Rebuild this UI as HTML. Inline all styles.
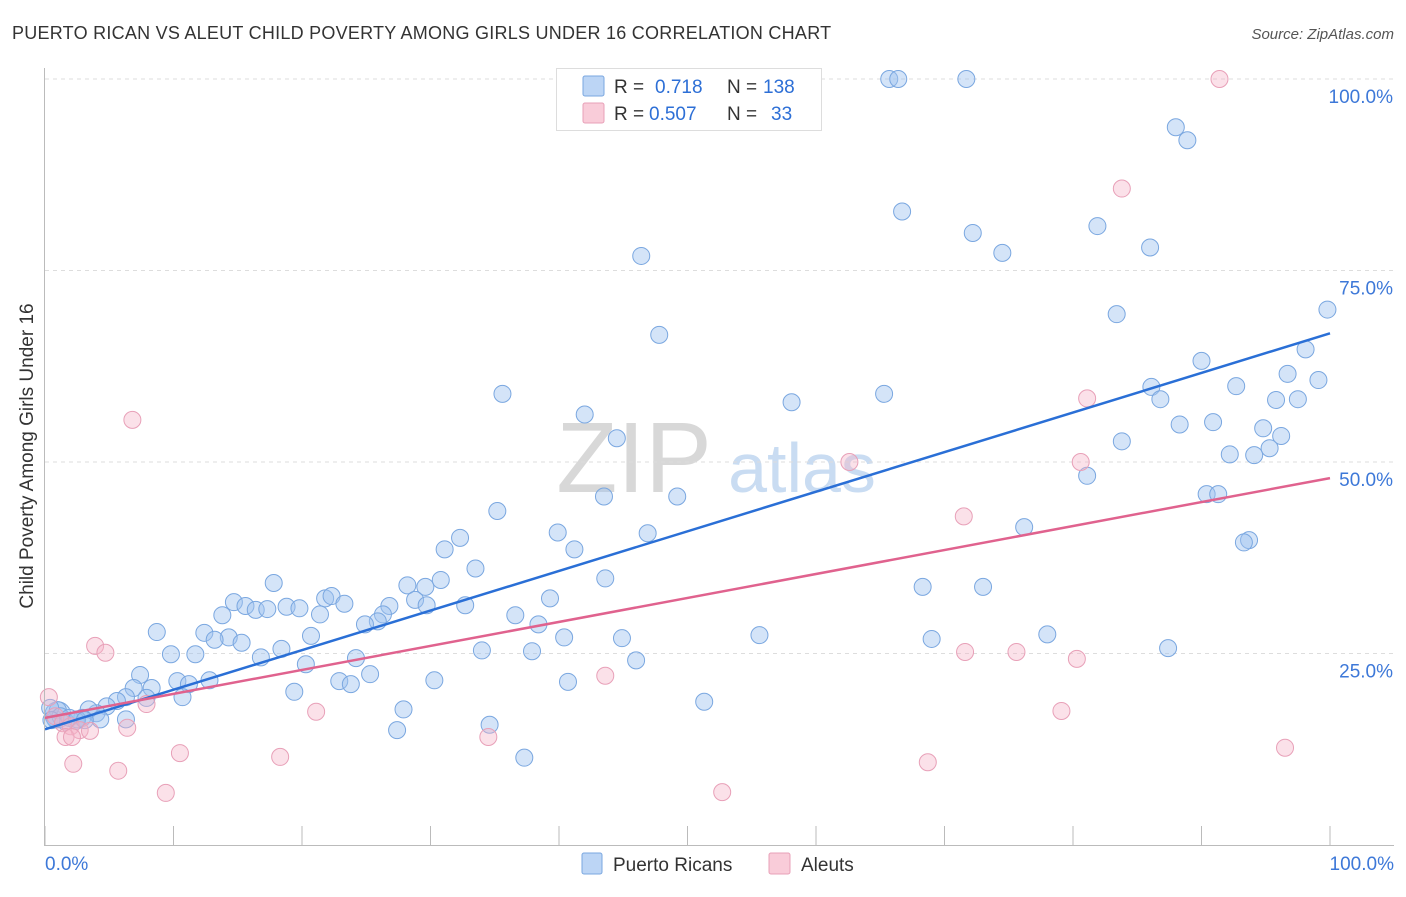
<!DOCTYPE html>
<html><head><meta charset="utf-8"><style>
body{margin:0;background:#fff;font-family:"Liberation Sans",sans-serif}
svg text{font-family:"Liberation Sans",sans-serif}
</style></head><body>
<svg id="chart" width="1406" height="892" viewBox="0 0 1406 892">
<text x="12" y="39" font-size="18" letter-spacing="0.25" fill="#333">PUERTO RICAN VS ALEUT CHILD POVERTY AMONG GIRLS UNDER 16 CORRELATION CHART</text>
<text x="1394" y="39" font-size="15" fill="#555" font-style="italic" text-anchor="end">Source: ZipAtlas.com</text>
<text x="634" y="492" font-size="100" fill="#d8d8d8" font-family="Liberation Serif,serif" text-anchor="middle">ZIP</text>
<text x="802" y="492" font-size="70" fill="#c9dcf2" text-anchor="middle">atlas</text>
<g id="grid"></g><g id="pts"></g><g id="lines"></g>
<line x1="44.5" y1="68" x2="44.5" y2="845" stroke="#bbb"/>
<line x1="44" y1="845.5" x2="1394" y2="845.5" stroke="#bbb"/>
<text transform="translate(33,456) rotate(-90)" font-size="19" fill="#333" text-anchor="middle">Child Poverty Among Girls Under 16</text>
<text x="45" y="870" font-size="19" fill="#3d78d8">0.0%</text>
<text x="1394" y="870" font-size="19" fill="#3d78d8" text-anchor="end">100.0%</text>
<g>
<rect x="556.5" y="68.5" width="265" height="62" fill="#fff" stroke="#ddd"/>
<rect x="583" y="76" width="21" height="20" fill="#bcd5f5" stroke="#7aa7e0" rx="2"/>
<rect x="583" y="103" width="21" height="20" fill="#f9ccd9" stroke="#e8a0b8" rx="2"/>
<text x="614" y="93" font-size="19" fill="#333">R = </text><text x="655" y="93" font-size="19" fill="#2d6fd6">0.718</text>
<text x="727" y="93" font-size="19" fill="#333">N = </text><text x="763" y="93" font-size="19" fill="#2d6fd6">138</text>
<text x="614" y="120" font-size="19" fill="#333">R = </text><text x="649" y="120" font-size="19" fill="#2d6fd6">0.507</text>
<text x="727" y="120" font-size="19" fill="#333">N = </text><text x="771" y="120" font-size="19" fill="#2d6fd6">33</text>
</g>
<g><rect x="582" y="853" width="20" height="21" fill="#bcd5f5" stroke="#7aa7e0" rx="2"/><text x="613" y="871" font-size="19" fill="#333">Puerto Ricans</text></g>
<g><rect x="769" y="853" width="21" height="21" fill="#f9ccd9" stroke="#e8a0b8" rx="2"/><text x="801" y="871" font-size="19" fill="#333">Aleuts</text></g>
</svg>
<script>
const yTicks=[25,50,75,100];
const yTickLabels=["25.0%","50.0%","75.0%","100.0%"];
const xTicks=[0,10,20,30,40,50,60,70,80,90,100];
const blueX=[65.7,66.4,71.7,88.0,88.9,66.7,72.2,81.9,86.0,74.5,46.4,47.8,83.4,99.8,98.1,90.0,96.7,99.1,86.1,86.8,65.3,58.1,35.6,42.0,92.7,95.8,97.5,90.9,88.3,94.8,96.2,83.8,95.3,92.2,94.1,44.5,81.1,90.4,91.3,49.2,43.5,35.2,76.2,39.9,46.9,93.7,93.3,32.3,31.1,41.2,33.5,43.6,17.8,28.2,29.6,30.8,68.3,73.0,14.7,15.6,16.4,17.3,18.8,19.8,21.8,22.3,23.3,21.4,13.8,26.8,28.8,29.7,32.7,39.3,36.6,26.3,25.9,24.9,38.4,8.7,12.4,14.3,13.2,15.3,20.7,18.4,40.4,44.9,55.6,69.0,78.0,87.4,9.8,11.7,34.0,37.9,46.0,16.8,24.2,7.4,20.3,25.3,10.3,11.2,12.8,22.9,23.8,30.3,40.7,6.9,8.3,6.3,10.7,19.4,5.6,4.8,7.9,27.9,51.3,4.0,3.4,2.9,4.3,6.3,2.4,1.6,0.8,1.0,0.4,1.2,1.9,34.6,27.4,37.3,2.5,3.1,0.5];
const blueY=[100,100,100,93.7,92.0,82.7,79.9,80.8,78.0,77.3,76.9,66.6,69.3,69.9,64.7,63.2,61.5,60.7,59.8,58.2,58.9,57.8,58.9,56.2,59.9,58.1,58.2,55.2,54.9,54.4,53.4,52.7,51.8,51.0,50.9,53.1,48.2,45.8,45.8,45.5,45.5,43.6,41.5,40.8,40.7,39.8,39.5,40.1,38.6,38.6,36.1,34.8,34.2,33.9,33.7,34.6,33.7,33.7,31.7,31.2,30.7,30.8,31.1,30.9,32.2,32.5,31.5,30.1,30.0,31.2,32.0,31.3,31.3,32.2,30.0,30.1,29.2,28.8,28.8,27.8,27.7,27.1,26.8,26.4,27.3,25.6,27.1,27.0,27.4,26.9,27.5,25.7,24.9,24.9,25.4,25.3,24.1,24.5,24.4,22.2,23.6,22.3,21.4,21.0,21.5,21.4,21.0,21.5,21.3,20.5,20.5,19.3,19.3,20.0,18.8,18.1,19.2,17.7,18.7,17.2,17.7,16.6,16.4,16.4,16.2,16.1,16.4,17.6,17.9,16.8,16.6,15.7,15.0,11.4,16.4,16.3,16.3];
const pinkX=[91.4,83.8,6.8,81.1,80.6,62.6,71.5,3.9,4.7,43.6,71.6,75.6,80.3,21.1,79.1,7.9,0.3,0.8,1.4,2.0,2.7,3.5,1.6,2.1,6.4,34.5,10.5,18.3,96.5,2.2,5.7,68.7,9.4,52.7];
const pinkY=[100,85.7,55.5,58.3,50.0,50.0,42.9,26.0,25.1,22.1,25.2,25.2,24.3,17.4,17.5,18.4,19.3,16.8,15.9,15.5,15.0,14.9,14.1,14.1,15.3,14.1,12.0,11.5,12.7,10.6,9.7,10.8,6.8,6.9];
const blueTrend=[15.1,66.8];
const pinkTrend=[16.6,47.9];
const X0=45,X1=1330,YB=845,YT=79;
const sx=v=>X0+(X1-X0)*v/100;
const sy=v=>YB-(YB-YT)*v/100;
const NS="http://www.w3.org/2000/svg";
function mk(t,a,p){const e=document.createElementNS(NS,t);for(const k in a)e.setAttribute(k,a[k]);p.appendChild(e);return e;}
const grid=document.getElementById('grid');
yTicks.forEach((v,i)=>{
 const l=mk('line',{x1:45,x2:1394,y1:sy(v),y2:sy(v),stroke:'#ddd','stroke-dasharray':'4,4'},grid);
 
 
 const t=mk('text',{x:1393,y:sy(v)+24,'font-size':19,fill:'#3d78d8','text-anchor':'end'},grid);
 t.textContent=yTickLabels[i];
 
 
});
xTicks.forEach(v=>{
 const l=mk('line',{x1:sx(v),x2:sx(v),y1:826,y2:845,stroke:'#bbb'},grid);
 
 
});
const pts=document.getElementById('pts');
const big=mk('circle',{cx:sx(1.0),cy:sy(17.0),r:13,fill:'rgba(160,196,240,0.45)',stroke:'#7aa7e0'},pts);


blueX.forEach((x,i)=>{
 const c=mk('circle',{cx:sx(x),cy:sy(blueY[i]),r:8.5,fill:'rgba(160,196,240,0.45)',stroke:'#7aa7e0','stroke-width':1},pts);
 
 
});
pinkX.forEach((x,i)=>{
 const c=mk('circle',{cx:sx(x),cy:sy(pinkY[i]),r:8.5,fill:'rgba(245,180,200,0.4)',stroke:'#e8a0b8','stroke-width':1},pts);
 
 
});
const lines=document.getElementById('lines');
const bl=mk('line',{x1:sx(0),y1:sy(blueTrend[0]),x2:sx(100),y2:sy(blueTrend[1]),stroke:'#2a6fd6','stroke-width':2.5},lines);


const pl=mk('line',{x1:sx(0),y1:sy(pinkTrend[0]),x2:sx(100),y2:sy(pinkTrend[1]),stroke:'#e0628e','stroke-width':2.5},lines);


</script>
</body></html>
